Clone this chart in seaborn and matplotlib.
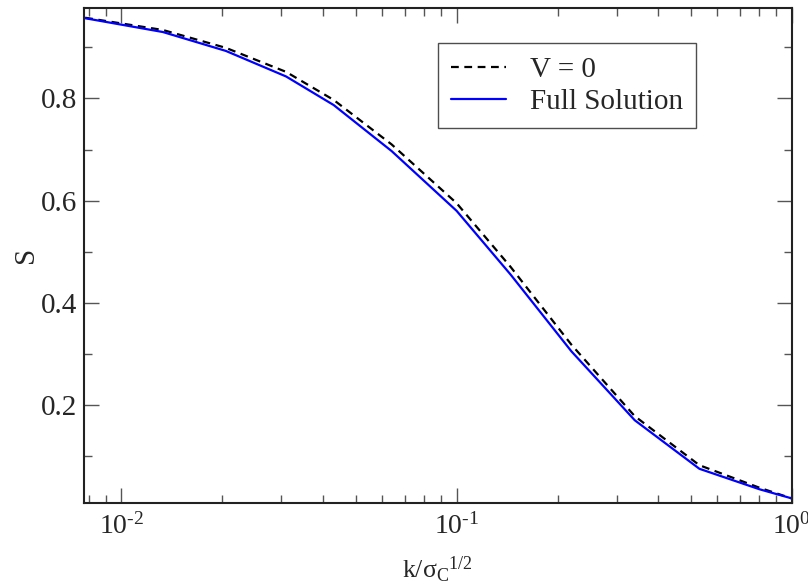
import numpy as np
import pandas as pd
import matplotlib
matplotlib.use('Agg')
import matplotlib.pyplot as plt
import seaborn as sns
from matplotlib.ticker import LogLocator, MultipleLocator, FuncFormatter

# ---------------- data ----------------
k = [0.0078, 0.0133, 0.0205, 0.031, 0.043, 0.064, 0.1, 0.145, 0.22, 0.34, 0.53, 0.8, 1.0]
s_v0 = [0.958, 0.934, 0.899, 0.852, 0.797, 0.710, 0.595, 0.470, 0.318, 0.178, 0.082, 0.038, 0.017]
s_full = [0.957, 0.930, 0.893, 0.843, 0.787, 0.697, 0.580, 0.455, 0.305, 0.170, 0.075, 0.035, 0.017]

df = pd.DataFrame({'k': k, 'V = 0': s_v0, 'Full Solution': s_full})

# ---------------- style ----------------
sns.set_style('ticks')
plt.rcParams['font.family'] = ['Liberation Serif', 'DejaVu Serif']
plt.rcParams['mathtext.fontset'] = 'custom'
plt.rcParams['mathtext.rm'] = 'Liberation Serif'
plt.rcParams['mathtext.it'] = 'Liberation Serif:italic'
plt.rcParams['mathtext.default'] = 'rm'

fig = plt.figure(figsize=(8.08, 5.86), dpi=100)
ax = fig.add_axes([0.104, 0.1416, 0.876, 0.8456])

sns.lineplot(data=df, x='k', y='V = 0', ax=ax, color='black', lw=1.6,
             linestyle=(0, (3.5, 2.5)), label='V = 0')
sns.lineplot(data=df, x='k', y='Full Solution', ax=ax, color='#0000ff', lw=1.6,
             label='Full Solution')

ax.set_xscale('log')
ax.set_xlim(0.00774, 1.0)
ax.set_ylim(0.008, 0.978)

HYPHEN = '\u2010'


def log_label(v, pos):
    e = int(round(np.log10(v)))
    if e < 0:
        return '$10^{' + HYPHEN + str(-e) + '}$'
    return '$10^{%d}$' % e


ax.xaxis.set_major_locator(LogLocator(base=10))
ax.xaxis.set_minor_locator(LogLocator(base=10, subs=np.arange(2, 10)))
ax.xaxis.set_major_formatter(FuncFormatter(log_label))
ax.yaxis.set_minor_locator(MultipleLocator(0.1))
ax.set_yticks([0.2, 0.4, 0.6, 0.8])

ax.tick_params(which='both', direction='in', top=True, right=True,
               color='#555555', width=1.0)
ax.tick_params(axis='y', pad=5, labelsize=21)
ax.tick_params(axis='x', pad=7, labelsize=20)
ax.tick_params(which='major', length=11)
ax.tick_params(which='minor', length=5.5)
for sp in ax.spines.values():
    sp.set_linewidth(1.5)
    sp.set_color('#222222')

ax.set_xlabel(r'k/$\sigma_{\rm C}{}^{\rm 1/2}$', fontsize=18.5, labelpad=11)
ax.set_ylabel('S', fontsize=21)
ax.yaxis.set_label_coords(-0.064, 0.5)

leg = ax.legend(loc='upper left', bbox_to_anchor=(0.5, 0.928), fontsize=21,
                frameon=True, fancybox=False, handlelength=1.9, borderaxespad=0,
                borderpad=0.45, labelspacing=0.2, handletextpad=0.8)
leg.get_frame().set_edgecolor('#222222')
leg.get_frame().set_linewidth(1.0)

plt.savefig('out.png', dpi=100)
